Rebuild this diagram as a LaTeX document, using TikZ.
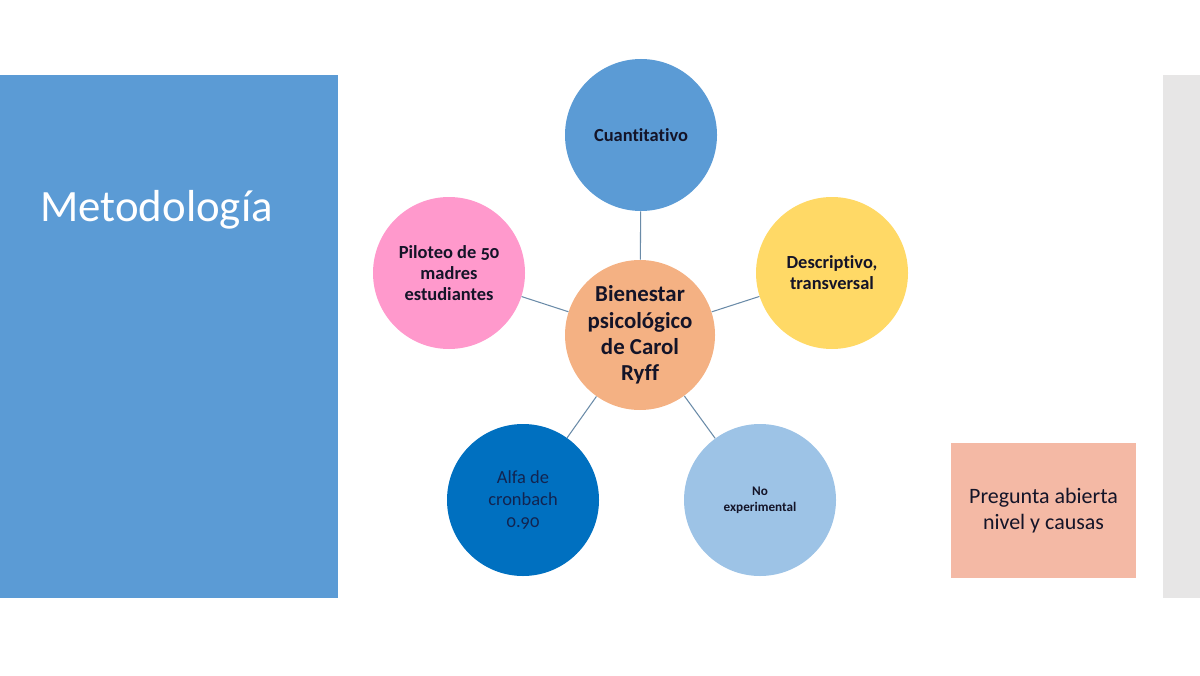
\documentclass[tikz,border=0pt]{standalone}
\usepackage{fontspec}
\setmainfont{Carlito}[Numbers=OldStyle,Ligatures=NoCommon]
\usetikzlibrary{positioning}
\definecolor{panelblue}{RGB}{91,155,213}
\definecolor{panelgray}{RGB}{231,230,230}
\definecolor{huborange}{RGB}{244,177,131}
\definecolor{rosepink}{RGB}{255,153,204}
\definecolor{sunyellow}{RGB}{255,217,102}
\definecolor{deepblue}{RGB}{0,112,192}
\definecolor{paleblue}{RGB}{157,195,230}
\definecolor{salmonbox}{RGB}{244,185,165}
\definecolor{spokeline}{RGB}{106,139,168}
\definecolor{inkdark}{RGB}{20,20,40}
\definecolor{inknavy}{RGB}{18,36,80}

\tikzset{
  petal/.style={circle,draw=none,minimum size=152*0.2mm,inner sep=0pt,align=center,text=inkdark,font=\bfseries\fontsize{10.5}{12}\selectfont},
  spoke/.style={spokeline,line width=0.6pt}
}

\begin{document}
\begin{tikzpicture}[x=0.2mm,y=-0.2mm]
\useasboundingbox (0,0) rectangle (1200,675);
% side panels
\fill[panelblue] (0,75) rectangle (338,598);
\fill[panelgray] (1163,75) rectangle (1200,598);
\node[anchor=west,text=white,inner sep=0pt,font=\fontsize{25.5}{30}\selectfont] (title) at (40,210) {Metodología};

% hub and petals
\node[petal,fill=huborange,minimum size=150*0.2mm,font=\bfseries\fontsize{13}{15}\selectfont] (hub) at (640,335) {Bienestar\\psicológico\\de Carol\\Ryff};
\node[petal,fill=panelblue] (cuanti) at (641,135) {Cuantitativo};
\node[petal,fill=sunyellow] (descr) at (832,273) {Descriptivo,\\transversal};
\node[petal,fill=paleblue,font=\bfseries\fontsize{7.5}{9}\selectfont] (noexp) at (760,500) {No\\experimental};
\node[petal,fill=deepblue,text=inknavy,font=\fontsize{10.5}{12.5}\selectfont] (alfa) at (523,500) {Alfa de\\cronbach\\0.90};
\node[petal,fill=rosepink] (piloto) at (449,273) {Piloteo de 50\\madres\\estudiantes};

% spokes
\foreach \p in {cuanti,descr,noexp,alfa,piloto} {
  \draw[spoke] (hub) -- (\p);
}

% side note
\node[fill=salmonbox,minimum width=185*0.2mm,minimum height=135*0.2mm,align=center,text=inkdark,font=\fontsize{12.5}{15}\selectfont] (pregunta) at (1043.5,510.5) {Pregunta abierta\\nivel y causas};
\end{tikzpicture}
\end{document}
